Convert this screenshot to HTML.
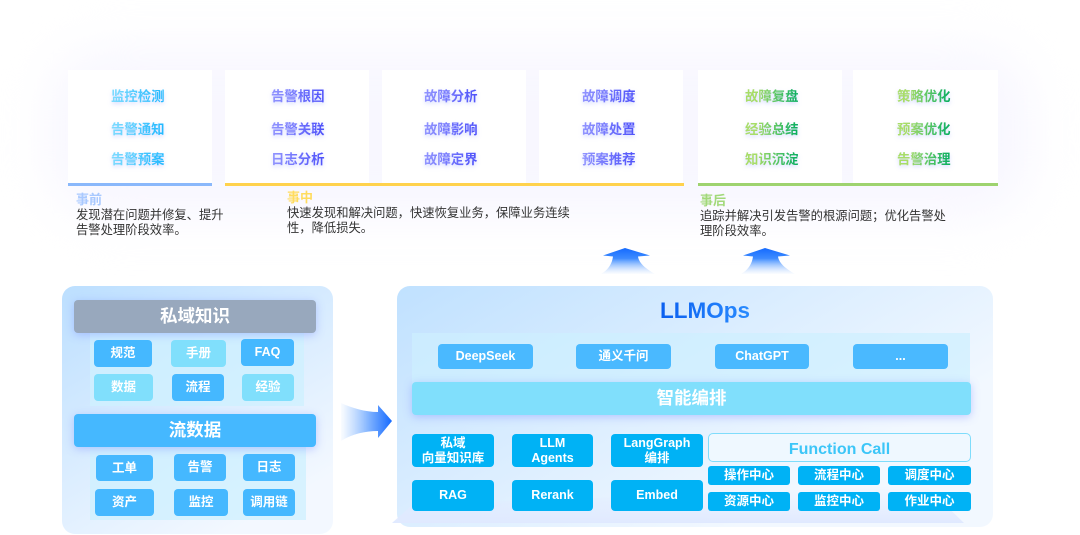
<!DOCTYPE html>
<html><head><meta charset="utf-8">
<style>
*{box-sizing:border-box}
html,body{margin:0;padding:0;width:1080px;height:535px;overflow:hidden;background:#fff;font-family:"Liberation Sans","Noto Sans CJK SC",sans-serif}
#r{position:relative;width:1080px;height:535px;overflow:hidden;filter:blur(.3px)}
#r>div{position:absolute}
.glow{left:48px;top:48px;width:984px;height:170px;background:#f8f7ff;filter:blur(24px);border-radius:60px}
.card{top:70px;height:113px;background:#fff}
.bar{top:183px;height:3px}
.t{width:54px;white-space:nowrap;font-size:13.4px;line-height:18px;font-weight:700;-webkit-background-clip:text;background-clip:text;color:transparent;filter:drop-shadow(0 2px 2px rgba(110,130,255,.3))}
.b1{background-image:linear-gradient(90deg,#7fdcff,#1fb8ff)}
.b2{background-image:linear-gradient(90deg,#9295ff,#4e51fa)}
.b3{background-image:linear-gradient(90deg,#a8dd68 20%,#05ad60)}
.h{font-size:13px;font-weight:700;line-height:16px}
.d{font-size:12.3px;line-height:15px;color:#333;white-space:nowrap;font-family:"Noto Sans CJK SC",sans-serif}
.x{display:flex;align-items:center;justify-content:center;color:#fff;font-weight:700;text-align:center;border-radius:4px;font-size:12.5px;line-height:15px}
.k{background:#45b8ff}.l{background:#80dffc}.m{background:#4ab9ff}.n{background:#00b2f5}
.bk{background:rgba(205,240,255,.75)}
.head{font-size:17.5px;border-radius:4px;box-shadow:0 2px 9px rgba(100,120,255,.35)}
</style></head><body><div id="r">
<div class="glow"></div>

<div class="card" style="left:68px;width:144px"></div>
<div class="card" style="left:225px;width:144px"></div>
<div class="card" style="left:382px;width:144px"></div>
<div class="card" style="left:539px;width:144px"></div>
<div class="card" style="left:698px;width:144px"></div>
<div class="card" style="left:853px;width:145px"></div>
<div class="bar" style="left:68px;width:144px;background:#8ab8fb"></div>
<div class="bar" style="left:225px;width:459px;background:#ffd24d"></div>
<div class="bar" style="left:698px;width:300px;background:#9ed36f"></div>

<div class="t b1" style="left:111px;top:88px">监控检测</div>
<div class="t b1" style="left:111px;top:121px">告警通知</div>
<div class="t b1" style="left:111px;top:151px">告警预案</div>
<div class="t b2" style="left:271px;top:88px">告警根因</div>
<div class="t b2" style="left:271px;top:121px">告警关联</div>
<div class="t b2" style="left:271px;top:151px">日志分析</div>
<div class="t b2" style="left:424px;top:88px">故障分析</div>
<div class="t b2" style="left:424px;top:121px">故障影响</div>
<div class="t b2" style="left:424px;top:151px">故障定界</div>
<div class="t b2" style="left:582px;top:88px">故障调度</div>
<div class="t b2" style="left:582px;top:121px">故障处置</div>
<div class="t b2" style="left:582px;top:151px">预案推荐</div>
<div class="t b3" style="left:745px;top:88px">故障复盘</div>
<div class="t b3" style="left:745px;top:121px">经验总结</div>
<div class="t b3" style="left:745px;top:151px">知识沉淀</div>
<div class="t b3" style="left:897px;top:88px">策略优化</div>
<div class="t b3" style="left:897px;top:121px">预案优化</div>
<div class="t b3" style="left:897px;top:151px">告警治理</div>

<div class="h" style="left:76px;top:192px;color:#a9c9ff">事前</div>
<div class="d" style="left:76px;top:207px">发现潜在问题并修复、提升<br>告警处理阶段效率。</div>
<div class="h" style="left:287px;top:190px;color:#ffdc5e">事中</div>
<div class="d" style="left:287px;top:205px">快速发现和解决问题，快速恢复业务，保障业务连续<br>性，降低损失。</div>
<div class="h" style="left:700px;top:193px;color:#a2d97a">事后</div>
<div class="d" style="left:700px;top:208px">追踪并解决引发告警的根源问题；优化告警处<br>理阶段效率。</div>

<svg style="position:absolute;left:0;top:0" width="1080" height="535" viewBox="0 0 1080 535">
<defs>
<linearGradient id="u" gradientUnits="userSpaceOnUse" x1="0" y1="248" x2="0" y2="274"><stop offset="0" stop-color="#156aff"/><stop offset=".4" stop-color="#3d8bff"/><stop offset="1" stop-color="#a8ccff" stop-opacity=".05"/></linearGradient>
<linearGradient id="ra" x1="0" y1="0" x2="1" y2="0"><stop offset="0" stop-color="#9cc6ff" stop-opacity=".05"/><stop offset=".55" stop-color="#7fb2ff"/><stop offset="1" stop-color="#156aff"/></linearGradient>
</defs>
<path d="M625 248L650 255.500L638 256.500C639 264 648 270 655 274L601 274C608 270 612 264 613 256.500L603 255.500Z" fill="url(#u)"/>
<path d="M765 248L790 255.500L778 256.500C779 264 788 270 795 274L741 274C748 270 752 264 753 256.500L743 255.500Z" fill="url(#u)"/>
<path d="M341 403C352 408 365 412 378 412L378 405L392 421L378 438L378 431C365 431 352 434 341 441Z" fill="url(#ra)"/>
</svg>

<div style="left:62px;top:286px;width:271px;height:248px;border-radius:13px;background:linear-gradient(150deg,#bcdfff,#f3f8ff 85%)"></div>
<div class="bk" style="left:90px;top:333px;width:214px;height:73px"></div>
<div class="bk" style="left:90px;top:447px;width:216px;height:73px"></div>
<div class="x head" style="left:74px;top:300px;width:242px;height:33px;background:#98a8bd">私域知识</div>
<div class="x head" style="left:74px;top:414px;width:242px;height:33px;background:#45b8ff">流数据</div>
<div class="x k" style="left:94px;top:340px;width:58px;height:27px">规范</div>
<div class="x l" style="left:171px;top:340px;width:55px;height:27px">手册</div>
<div class="x k" style="left:241px;top:339px;width:53px;height:27px">FAQ</div>
<div class="x l" style="left:94px;top:374px;width:59px;height:27px">数据</div>
<div class="x k" style="left:172px;top:374px;width:52px;height:27px">流程</div>
<div class="x l" style="left:242px;top:374px;width:52px;height:27px">经验</div>
<div class="x k" style="left:96px;top:455px;width:57px;height:26px">工单</div>
<div class="x k" style="left:174px;top:454px;width:52px;height:27px">告警</div>
<div class="x k" style="left:243px;top:454px;width:52px;height:27px">日志</div>
<div class="x k" style="left:95px;top:489px;width:59px;height:27px">资产</div>
<div class="x k" style="left:174px;top:489px;width:54px;height:27px">监控</div>
<div class="x k" style="left:243px;top:489px;width:52px;height:27px">调用链</div>

<div style="left:397px;top:286px;width:596px;height:241px;border-radius:13px;background:linear-gradient(150deg,#c0e1ff,#f2f8ff 75%)"></div>
<svg style="position:absolute;left:0;top:0" width="1080" height="535" viewBox="0 0 1080 535">
<defs><linearGradient id="tz" gradientUnits="userSpaceOnUse" x1="0" y1="485" x2="0" y2="523"><stop offset="0" stop-color="#e4ecff" stop-opacity="0"/><stop offset="1" stop-color="#e0e9ff"/></linearGradient></defs>
<path d="M392 523L412 505L925 485L964 523Z" fill="url(#tz)"/>
</svg>
<div style="left:412px;top:333px;width:558px;height:52px;background:rgba(205,240,255,.7)"></div>
<div style="left:660px;top:296px;width:92px;white-space:nowrap;font-size:22.500px;line-height:30px;font-weight:700;-webkit-background-clip:text;background-clip:text;color:transparent;background-image:linear-gradient(90deg,#0a5ff0,#2a8cff)">LLMOps</div>
<div class="x m" style="left:438px;top:344px;width:95px;height:25px">DeepSeek</div>
<div class="x m" style="left:576px;top:344px;width:95px;height:25px">通义千问</div>
<div class="x m" style="left:715px;top:344px;width:94px;height:25px">ChatGPT</div>
<div class="x m" style="left:853px;top:344px;width:95px;height:25px">...</div>
<div class="x head" style="left:412px;top:382px;width:559px;height:33px;background:#80dffc">智能编排</div>
<div class="x n" style="left:412px;top:434px;width:82px;height:33px">私域<br>向量知识库</div>
<div class="x n" style="left:512px;top:434px;width:81px;height:33px">LLM<br>Agents</div>
<div class="x n" style="left:611px;top:434px;width:92px;height:33px">LangGraph<br>编排</div>
<div class="x n" style="left:412px;top:480px;width:82px;height:31px">RAG</div>
<div class="x n" style="left:512px;top:480px;width:81px;height:31px">Rerank</div>
<div class="x n" style="left:611px;top:480px;width:92px;height:31px">Embed</div>
<div class="x" style="left:708px;top:433px;width:263px;height:29px;border:1px solid #7fdcfb;background:#eff8ff;color:#3cc6f8;font-size:16px;border-radius:5px;padding-top:3px">Function Call</div>
<div class="x n" style="left:708px;top:466px;width:82px;height:19px;border-radius:3px">操作中心</div>
<div class="x n" style="left:798px;top:466px;width:82px;height:19px;border-radius:3px">流程中心</div>
<div class="x n" style="left:888px;top:466px;width:83px;height:19px;border-radius:3px">调度中心</div>
<div class="x n" style="left:708px;top:492px;width:82px;height:19px;border-radius:3px">资源中心</div>
<div class="x n" style="left:798px;top:492px;width:82px;height:19px;border-radius:3px">监控中心</div>
<div class="x n" style="left:888px;top:492px;width:83px;height:19px;border-radius:3px">作业中心</div>
</div></body></html>
